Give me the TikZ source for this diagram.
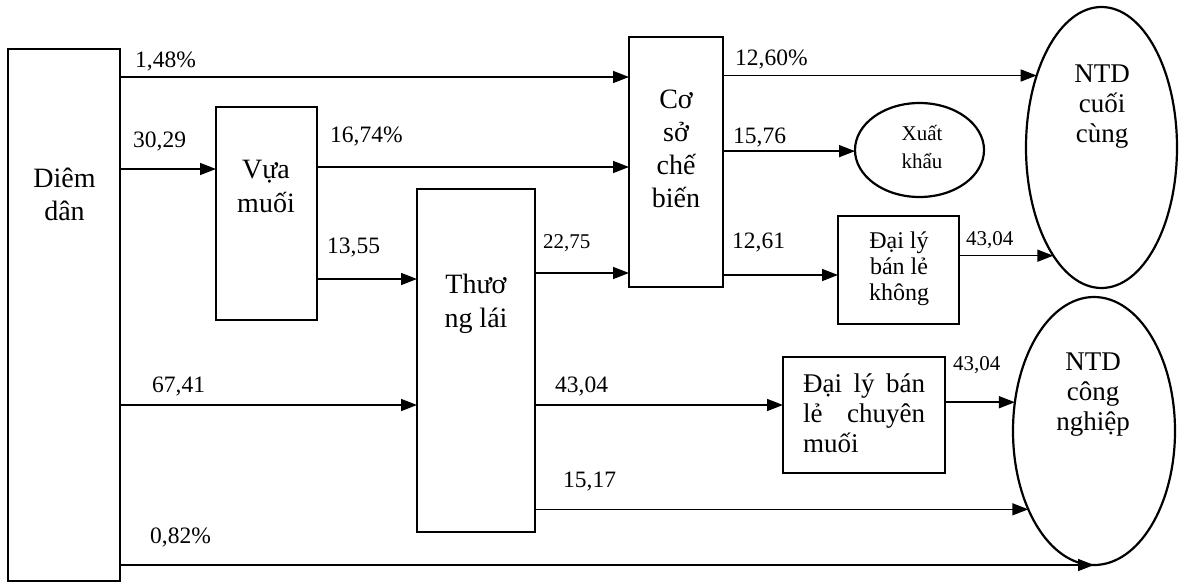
\documentclass[tikz,border=0pt]{standalone}
\usepackage{fontspec}
\setmainfont{Liberation Serif}
\usetikzlibrary{arrows.meta,shapes.geometric}
\newcommand\mlines[2]{\vtop{\baselineskip=#1\lineskiplimit=-100pt\lineskip=0pt\halign{\hfil##\hfil\cr#2\crcr}}}
\begin{document}
\begin{tikzpicture}[x=1pt,y=-1pt,
  box/.style={draw, line width=1.5pt, inner sep=0pt, outer sep=0pt},
  oval/.style={draw, ellipse, line width=2.2pt, inner sep=0pt, outer sep=0pt},
  arr/.style={line width=1.5pt, -{Triangle[length=16pt,width=12pt]}},
  lbl/.style={anchor=base west, inner sep=0pt, font=\fontsize{23.5}{28}\selectfont},
  slbl/.style={anchor=base west, inner sep=0pt, font=\fontsize{21}{25}\selectfont},
  txt/.style={anchor=base, inner sep=0pt, font=\fontsize{28}{33}\selectfont}]
\useasboundingbox (0,0) rectangle (1181,584);
% boxes
\node[box, minimum width=112pt, minimum height=532pt] (dd) at (64,315) {};
\node[box, minimum width=101pt, minimum height=213pt] (vm) at (266.5,213.5) {};
\node[box, minimum width=118pt, minimum height=343pt] (tl) at (476,360.5) {};
\node[box, minimum width=94pt, minimum height=250pt] (cs) at (676,162) {};
\node[box, minimum width=121pt, minimum height=108pt] (dlk) at (898.5,270) {};
\node[box, minimum width=162pt, minimum height=116pt] (dlc) at (864,415) {};
% ellipses
\node[oval, minimum width=129pt, minimum height=94pt] (xk) at (919.5,150) {};
\node[oval, minimum width=151pt, minimum height=281pt] (n1) at (1101.5,147.5) {};
\node[oval, minimum width=162pt, minimum height=268pt] (n2) at (1094,431) {};
% texts
\node[txt] (tdd) at (64.5,187) {\mlines{33pt}{Diêm\cr dân}};
\node[txt] (tvm) at (266,178) {\mlines{34pt}{Vựa\cr muối}};
\node[txt] (ttl) at (476,293) {\mlines{34pt}{Thươ\cr ng lái}};
\node[txt] (tcs) at (676,108) {\mlines{33pt}{Cơ\cr sở\cr chế\cr biến}};
\node[txt, font=\fontsize{21}{25}\selectfont] (txk) at (922,140) {\mlines{28pt}{Xuất\cr khẩu}};
\node[txt, font=\fontsize{24}{28}\selectfont] (tdlk) at (899,248) {\mlines{26pt}{Đại lý\cr bán lẻ\cr không}};
\node[anchor=base west, inner sep=0pt, font=\fontsize{27}{30}\selectfont] (tdlc) at (803,392)
  {\vtop{\hsize=122pt\baselineskip=30pt\lineskiplimit=-100pt\lineskip=0pt
   \hbox to\hsize{Đại\hfil lý\hfil bán}\hbox to\hsize{lẻ\hfil chuyên}\hbox{muối}}};
\node[txt, font=\fontsize{27}{30}\selectfont] (tn1) at (1102,82) {\mlines{30pt}{NTD\cr cuối\cr cùng}};
\node[txt, font=\fontsize{27}{30}\selectfont] (tn2) at (1093,370) {\mlines{30pt}{NTD\cr công\cr nghiệp}};
% connectors
\draw[arr] (dd.east |- 0,77) -- (cs.west |- 0,77);
\draw[arr] (dd.east |- 0,169) -- (vm.west |- 0,169);
\draw[arr] (vm.east |- 0,167) -- (cs.west |- 0,167);
\draw[arr] (vm.east |- 0,279) -- (tl.west |- 0,279);
\draw[arr] (dd.east |- 0,405) -- (tl.west |- 0,405);
\draw[arr] (tl.east |- 0,273) -- (cs.west |- 0,273);
\draw[arr] (cs.east |- n1.132.8) -- (n1.132.8);
\draw[arr] (cs.east |- xk.181.8) -- (xk.181.8);
\draw[arr] (cs.east |- 0,275) -- (dlk.west |- 0,275);
\draw[arr] (dlk.east |- n1.246.6) -- (n1.246.6);
\draw[arr] (tl.east |- 0,405) -- (dlc.west |- 0,405);
\draw[arr] (dlc.east |- n2.160.5) -- (n2.160.5);
\draw[arr] (tl.east |- n2.230.9) -- (n2.230.9);
\draw[arr] (dd.east |- n2.south) -- (n2.south);
% labels
\node[lbl] (l1) at (135,67) {1,48\%};
\node[lbl] (l2) at (133,147) {30,29};
\node[lbl] (l3) at (330,142) {16,74\%};
\node[lbl] (l4) at (327,253) {13,55};
\node[slbl] (l5) at (543,248) {22,75};
\node[lbl] (l6) at (735,65) {12,60\%};
\node[lbl] (l7) at (733,143) {15,76};
\node[lbl] (l8) at (732,248) {12,61};
\node[slbl] (l9) at (966,245) {43,04};
\node[lbl] (l10) at (555,392) {43,04};
\node[slbl] (l11) at (953,370) {43,04};
\node[lbl] (l12) at (563,487) {15,17};
\node[lbl] (l13) at (152,392) {67,41};
\node[lbl] (l14) at (150,543) {0,82\%};
\end{tikzpicture}
\end{document}
